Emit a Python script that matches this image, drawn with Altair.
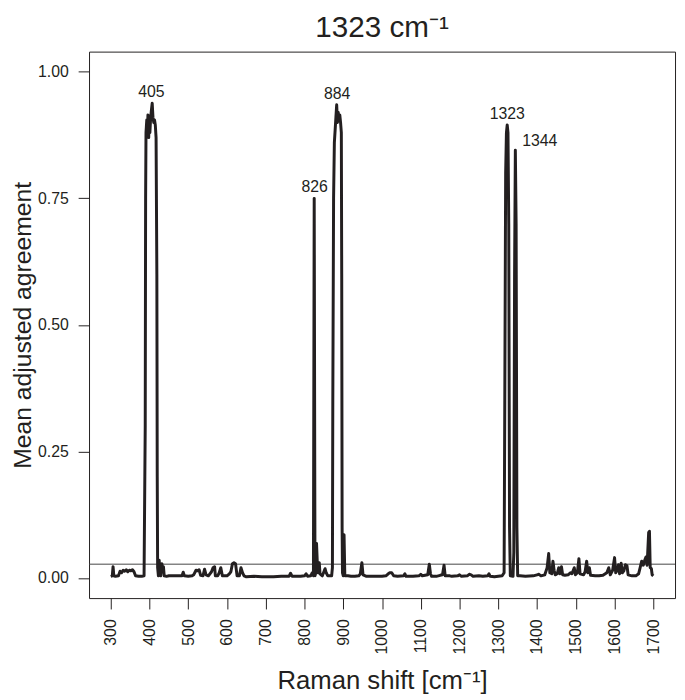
import altair as alt
import pandas as pd

# Raman shift (cm^-1) and mean adjusted agreement
shift = [
    300, 304, 306, 308, 312, 320, 324, 328, 332, 336, 340, 344, 348, 352, 356, 360, 364, 372, 380, 386,
    389, 390, 391, 393, 395, 396, 398, 399, 401, 403, 405, 407, 409, 411, 413, 415, 417, 419, 420, 421,
    423, 425, 427, 429, 432, 434, 436, 438, 444, 450, 484, 487, 490, 500, 510, 514, 520, 524, 528, 532,
    538, 542, 546, 552, 560, 564, 568, 570, 576, 580, 584, 588, 600, 606, 610, 614, 618, 622, 626, 632,
    636, 640, 644, 650, 670, 690, 720, 740, 760, 764, 768, 790, 800, 804, 808, 816, 820, 823, 825, 827,
    829, 831, 833, 835, 838, 840, 846, 850, 853, 856, 860, 866, 870, 872, 873, 875, 877, 879, 881, 883,
    885, 887, 889, 891, 893, 895, 896, 897, 898, 900, 902, 904, 908, 912, 920, 930, 940, 944, 948, 951,
    960, 980, 1000, 1010, 1016, 1020, 1025, 1030, 1040, 1056, 1059, 1062, 1080, 1095, 1100, 1104, 1118, 1122, 1125, 1128,
    1140, 1150, 1156, 1160, 1163, 1175, 1180, 1195, 1200, 1205, 1220, 1225, 1230, 1235, 1250, 1260, 1273, 1276, 1279, 1290,
    1300, 1310, 1315, 1317, 1319, 1321, 1323, 1325, 1327, 1329, 1331, 1338, 1340, 1342, 1344, 1346, 1348, 1350, 1356, 1370,
    1390, 1400, 1405, 1410, 1420, 1426, 1430, 1433, 1438, 1441, 1444, 1447, 1452, 1456, 1459, 1463, 1466, 1472, 1480, 1486,
    1490, 1496, 1499, 1504, 1508, 1511, 1520, 1524, 1528, 1531, 1535, 1538, 1550, 1560, 1570, 1580, 1585, 1589, 1595, 1600,
    1603, 1607, 1610, 1613, 1617, 1620, 1624, 1628, 1632, 1635, 1645, 1655, 1662, 1666, 1670, 1674, 1678, 1681, 1684, 1688,
    1690, 1692, 1695, 1697, 1700,
]
agreement = [
    0.003, 0.004, 0.022, 0.004, 0.003, 0.004, 0.013, 0.010, 0.015, 0.013, 0.016, 0.012, 0.015, 0.014, 0.016, 0.012, 0.004, 0.003, 0.003, 0.004,
    0.300, 0.750, 0.880, 0.905, 0.890, 0.915, 0.870, 0.905, 0.880, 0.910, 0.925, 0.938, 0.910, 0.900, 0.905, 0.895, 0.870, 0.600, 0.200, 0.020,
    0.004, 0.035, 0.008, 0.004, 0.028, 0.012, 0.022, 0.004, 0.003, 0.004, 0.004, 0.011, 0.004, 0.003, 0.004, 0.006, 0.015, 0.014, 0.016, 0.005,
    0.004, 0.017, 0.006, 0.004, 0.012, 0.020, 0.022, 0.004, 0.004, 0.010, 0.020, 0.004, 0.004, 0.008, 0.012, 0.028, 0.030, 0.028, 0.004, 0.004,
    0.020, 0.010, 0.004, 0.002, 0.003, 0.002, 0.002, 0.003, 0.003, 0.009, 0.003, 0.003, 0.004, 0.008, 0.003, 0.004, 0.010, 0.004, 0.750, 0.004,
    0.010, 0.068, 0.030, 0.010, 0.030, 0.008, 0.004, 0.012, 0.018, 0.010, 0.004, 0.004, 0.004, 0.020, 0.350, 0.750, 0.860, 0.885, 0.910, 0.935,
    0.900, 0.920, 0.905, 0.915, 0.900, 0.880, 0.600, 0.100, 0.010, 0.004, 0.085, 0.004, 0.004, 0.004, 0.003, 0.003, 0.004, 0.008, 0.030, 0.006,
    0.003, 0.003, 0.003, 0.004, 0.008, 0.010, 0.010, 0.004, 0.003, 0.004, 0.008, 0.003, 0.003, 0.004, 0.007, 0.004, 0.006, 0.027, 0.008, 0.003,
    0.003, 0.005, 0.006, 0.025, 0.004, 0.004, 0.003, 0.004, 0.006, 0.003, 0.004, 0.007, 0.006, 0.003, 0.004, 0.003, 0.004, 0.008, 0.003, 0.002,
    0.003, 0.004, 0.010, 0.400, 0.800, 0.880, 0.895, 0.880, 0.700, 0.100, 0.004, 0.003, 0.050, 0.600, 0.845, 0.700, 0.100, 0.004, 0.004, 0.003,
    0.004, 0.006, 0.007, 0.004, 0.006, 0.020, 0.048, 0.010, 0.008, 0.033, 0.015, 0.006, 0.008, 0.020, 0.008, 0.022, 0.006, 0.005, 0.006, 0.010,
    0.008, 0.020, 0.006, 0.010, 0.038, 0.008, 0.006, 0.012, 0.033, 0.010, 0.020, 0.005, 0.004, 0.004, 0.005, 0.010, 0.020, 0.006, 0.015, 0.040,
    0.010, 0.015, 0.026, 0.008, 0.029, 0.010, 0.014, 0.026, 0.024, 0.006, 0.004, 0.004, 0.008, 0.020, 0.033, 0.025, 0.035, 0.041, 0.025, 0.090,
    0.092, 0.020, 0.018, 0.006, 0.004,
]

threshold = [0.027]

peak_labels = ["405", "826", "884", "1323"]
peak_x = [405, 826, 884, 1323]
peak_y = [0.938, 0.750, 0.935, 0.895]

side_labels = ["1344"]
side_x = [1344]
side_y = [0.845]

x_ticks = list(range(300, 1701, 100))
y_ticks = [0.0, 0.25, 0.5, 0.75, 1.0]

FONT = "Liberation Sans"
INK = "#231f20"

df = pd.DataFrame({"shift": shift, "agreement": agreement})
df_thr = pd.DataFrame({"t": threshold})
df_lab = pd.DataFrame({"label": peak_labels, "x": peak_x, "y": peak_y})
df_side = pd.DataFrame({"label": side_labels, "x": side_x, "y": side_y})

xscale = alt.Scale(domain=[244, 1756], nice=False, zero=False)
yscale = alt.Scale(domain=[-0.04, 1.04], nice=False, zero=False)

xaxis = alt.Axis(
    values=x_ticks, format="d", labelAngle=-90, labelAlign="right", labelBaseline="middle",
    title="Raman shift [cm\u207b\u00b9]", grid=False, domain=False,
    tickSize=11, tickColor=INK, tickWidth=1, labelPadding=10,
    titleBaseline="alphabetic", titleY=92, titleFontSize=26,
)
yaxis = alt.Axis(
    values=y_ticks, format=".2f", title="Mean adjusted agreement", grid=False,
    domain=False, tickSize=11, tickColor=INK, tickWidth=1, labelPadding=10,
    titleBaseline="alphabetic", titleX=-59, titleFontSize=25,
)

line = alt.Chart(df).mark_line(color=INK, strokeWidth=3, strokeJoin="round").encode(
    x=alt.X("shift:Q", scale=xscale, axis=xaxis),
    y=alt.Y("agreement:Q", scale=yscale, axis=yaxis),
)

rule = alt.Chart(df_thr).mark_rule(color="#444444", strokeWidth=1).encode(
    y=alt.Y("t:Q", scale=yscale),
)

labels = alt.Chart(df_lab).mark_text(
    font=FONT, fontSize=16, color=INK, baseline="alphabetic", align="center", dy=-6,
).encode(x=alt.X("x:Q", scale=xscale), y=alt.Y("y:Q", scale=yscale), text="label:N")

side = alt.Chart(df_side).mark_text(
    font=FONT, fontSize=16, color=INK, baseline="alphabetic", align="left", dx=7, dy=-4,
).encode(x=alt.X("x:Q", scale=xscale), y=alt.Y("y:Q", scale=yscale), text="label:N")

chart = alt.layer(rule, line, labels, side).properties(
    width=593, height=553,
    title=alt.TitleParams("1323 cm\u207b\u00b9", font=FONT, fontSize=30, fontWeight="normal",
                          color=INK, offset=9, anchor="middle"),
    autosize=alt.AutoSizeParams(type="none"),
    padding={"left": 82, "top": 40, "right": 2, "bottom": 100},
).configure_view(
    stroke=INK, strokeWidth=1,
).configure_axis(
    labelFont=FONT, labelFontSize=16, labelColor=INK,
    titleFont=FONT, titleFontWeight="normal", titleColor=INK,
)

chart.save("out.html", embed_options={"renderer": "svg", "actions": False})
